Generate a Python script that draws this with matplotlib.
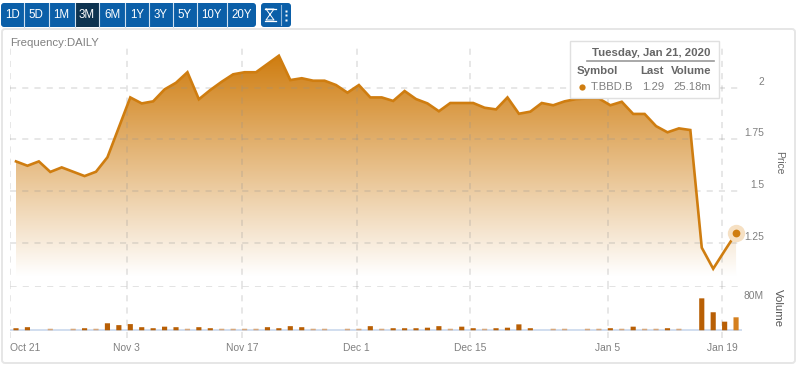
import numpy as np
import matplotlib
matplotlib.use('Agg')
import matplotlib.pyplot as plt
from matplotlib.colors import LinearSegmentedColormap
from matplotlib.patches import FancyBboxPatch, Polygon, Rectangle
from matplotlib.transforms import ScaledTranslation

plt.rcParams['font.family'] = ['Liberation Sans', 'DejaVu Sans']

# Data (one value per trading day)
price = [1.643, 1.622, 1.643, 1.592, 1.614, 1.593, 1.572, 1.593, 1.663, 1.808,
         1.953, 1.924, 1.934, 1.992, 2.024, 2.075, 1.944, 1.989, 2.029, 2.065,
         2.075, 2.075, 2.115, 2.155, 2.037, 2.046, 2.034, 2.034, 2.013, 1.976,
         2.013, 1.953, 1.953, 1.936, 1.984, 1.945, 1.924, 1.886, 1.926, 1.926,
         1.926, 1.903, 1.895, 1.953, 1.874, 1.884, 1.926, 1.915, 1.934, 1.945,
         1.948, 1.948, 1.915, 1.932, 1.873, 1.873, 1.814, 1.784, 1.803, 1.795,
         1.225, 1.123, 1.21, 1.295]
volume = [4, 6, 0, 3, 0, 3, 4, 3, 13.6, 10,
          12, 6, 4, 7, 6, 3, 6, 4, 3, 3,
          3, 3, 6, 4, 8, 6, 3, 3, 0, 3,
          3, 8, 3, 4, 4, 4, 5, 8, 3, 7,
          4, 3, 4, 5, 11.5, 4, 0, 3, 3, 0,
          3, 3, 4, 3, 7, 3, 3, 4, 3, 0,
          62, 35, 16.7, 25.18]
tick_pos = [-0.5, 9.7, 19.8, 29.8, 39.75, 51.8, 61.8]
tick_labels = ['Oct 21', 'Nov 3', 'Nov 17', 'Dec 1', 'Dec 15', 'Jan 5', 'Jan 19']
price_ticks = [2, 1.75, 1.5, 1.25]
price_labels = ['2', '1.75', '1.5', '1.25']
range_names = ['1D', '5D', '1M', '3M', '6M', '1Y', '3Y', '5Y', '10Y', '20Y']
range_edges = [1, 24, 48.7, 74.7, 99.3, 125.3, 149.3, 172.7, 196.7, 226.7, 256]

ORANGE = '#cf7d10'
GREY = '#808080'
W, H = 800, 368
x = np.arange(len(price))

fig = plt.figure(figsize=(W / 100, H / 100), dpi=100, facecolor='white')


def axes_px(left, top, right, bottom):
    return fig.add_axes([left / W, 1 - bottom / H, (right - left) / W, (bottom - top) / H])


# background layer in pixel coordinates
bg = fig.add_axes([0, 0, 1, 1], zorder=0)
bg.set_xlim(0, W)
bg.set_ylim(H, 0)
bg.axis('off')
bg.add_patch(FancyBboxPatch((2, 29), 793, 334, boxstyle='round,pad=0,rounding_size=3',
                            fc='white', ec='#e6e6e6', lw=1.4))

# price panel
ax = axes_px(10, 45, 742, 286.7)
ax.set_zorder(1)
ax.patch.set_alpha(0)
ax.set_xlim(-0.525, 63.52)
ax.set_ylim(1.036, 2.207)
fade = LinearSegmentedColormap.from_list('fade', ['white', ORANGE])
base = 1.088
img = ax.imshow(np.linspace(1, 0, 256).reshape(-1, 1), cmap=fade, vmin=0, vmax=1, aspect='auto',
                extent=[x[0], x[-1], base, 2.155], zorder=1)
poly = Polygon(list(zip(x, price)) + [(x[-1], base), (x[0], base)], closed=True,
               transform=ax.transData, fc='none', ec='none')
ax.add_patch(poly)
img.set_clip_path(poly)
ax.set_xlim(-0.525, 63.52)
ax.set_ylim(1.036, 2.207)

for t in tick_pos:
    ax.axvline(t, color='#909090', alpha=0.28, lw=1.1, dashes=(4, 4), zorder=2)
for p in price_ticks:
    ax.axhline(p, color='#909090', alpha=0.28, lw=1.1, dashes=(4, 4), zorder=2)
ax.axhline(1.036, color='#909090', alpha=0.28, lw=2, dashes=(2.2, 2.2), zorder=2)
ax.plot(x, price, color=ORANGE, lw=1.9, solid_joinstyle='miter', zorder=3)
ax.plot(x[-1], price[-1], 'o', ms=12.5, color='#f6e0c3', mec='none', zorder=4, clip_on=False)
ax.plot(x[-1], price[-1], 'o', ms=5.6, color=ORANGE, mec='none', zorder=5, clip_on=False)
ax.set_xticks([])
ax.set_yticks(price_ticks)
ax.set_yticklabels(price_labels, color=GREY, fontsize=7.4)
ax.yaxis.tick_right()
ax.tick_params(axis='y', length=0, pad=16)
# the price labels sit a little above their grid lines
for lab in ax.get_yticklabels():
    lab.set_horizontalalignment('right')
    lab.set_transform(lab.get_transform() + ScaledTranslation(0, 7 / 100, fig.dpi_scale_trans))
for s in ax.spines.values():
    s.set_visible(False)

# volume panel
vax = axes_px(10, 286.7, 742, 338)
vax.set_zorder(1)
vax.patch.set_alpha(0)
vax.set_xlim(-0.525, 63.52)
vax.set_ylim(-15, 84.6)
for t in tick_pos:
    vax.axvline(t, color='#909090', alpha=0.28, lw=1.1, dashes=(4, 4), zorder=1)
vax.axhline(0, color='#c9d8ec', lw=1.2, zorder=1)
bar_colors = ['#d6a77c' if v <= 3 else '#b85f05' for v in volume]
bar_colors[-1] = '#d5801f'
bars = vax.bar(x, volume, width=0.45, color=bar_colors, linewidth=0, zorder=3)
for b in bars:
    b.set_snap(False)
vax.set_xticks(tick_pos)
vax.set_xticklabels(tick_labels, color=GREY, fontsize=7.4)
vax.get_xticklabels()[0].set_horizontalalignment('left')
vax.tick_params(axis='x', length=0, pad=3.5)
vax.set_yticks([])
for s in vax.spines.values():
    s.set_visible(False)

# text and controls on top, in pixel coordinates
top = fig.add_axes([0, 0, 1, 1], zorder=3)
top.set_xlim(0, W)
top.set_ylim(H, 0)
top.axis('off')
top.text(10, 43, 'Frequency:DAILY', color=GREY, fontsize=8.2, va='center')
top.text(764, 296, '80M', color=GREY, fontsize=7.4, ha='right', va='center')
top.text(778.7, 163, 'Price', color='#666666', fontsize=7.4, rotation=270, ha='center', va='center')
top.text(778, 308.5, 'Volume', color='#555555', fontsize=8.2, rotation=270, ha='center', va='center')

# range buttons
top.add_patch(FancyBboxPatch((1, 3), 255, 24, boxstyle='round,pad=0,rounding_size=3',
                             fc='#0b5fa8', ec='none'))
top.add_patch(FancyBboxPatch((261, 3), 30, 24, boxstyle='round,pad=0,rounding_size=3',
                             fc='#0b5fa8', ec='none'))
for i, name in enumerate(range_names):
    left, right = range_edges[i], range_edges[i + 1]
    if name == '3M':
        top.add_patch(Rectangle((left, 3), right - left, 24, fc='#0d3350', ec='none'))
    if i > 0:
        top.plot([left, left], [3, 27], color='#cfe0f0', lw=0.8)
    top.text((left + right) / 2, 15.3, name, color='white', fontsize=8.3, ha='center', va='center')
# hourglass icon and the menu dots
top.plot([264.5, 275.5], [8.5, 8.5], color='white', lw=0.9)
top.plot([264.5, 275.5], [20.5, 20.5], color='white', lw=0.9)
top.plot([266, 274, 266, 274, 266], [9, 9, 20, 20, 9], color='white', lw=0.7)
top.plot([280.5, 280.5], [5, 25], color='#8fb6d9', lw=0.8)
top.plot([286, 286, 286], [10.5, 15, 19.5], 's', color='white', ms=2.1, mec='none')

# tooltip
top.add_patch(Rectangle((570, 40.7), 149, 57.3, fc='white', ec='#e0e0e0', lw=1))
top.text(711, 52.5, 'Tuesday, Jan 21, 2020', color='#666666', fontsize=8.2, fontweight='bold',
         ha='right', va='center')
top.plot([587, 714], [61, 61], color='#9a9a9a', lw=1.2)
top.text(577, 71, 'Symbol', color='#666666', fontsize=8.2, fontweight='bold', va='center')
top.text(664, 71, 'Last', color='#666666', fontsize=8.2, fontweight='bold', ha='right', va='center')
top.text(711, 71, 'Volume', color='#666666', fontsize=8.2, fontweight='bold', ha='right', va='center')
top.plot([582], [87], 'o', color=ORANGE, ms=4.5, mec='none')
top.text(591, 87, 'T.BBD.B', color=GREY, fontsize=8.1, va='center')
top.text(664, 87, '1.29', color=GREY, fontsize=8.1, ha='right', va='center')
top.text(711, 87, '25.18m', color=GREY, fontsize=8.1, ha='right', va='center')

fig.savefig('out.png', dpi=100)
